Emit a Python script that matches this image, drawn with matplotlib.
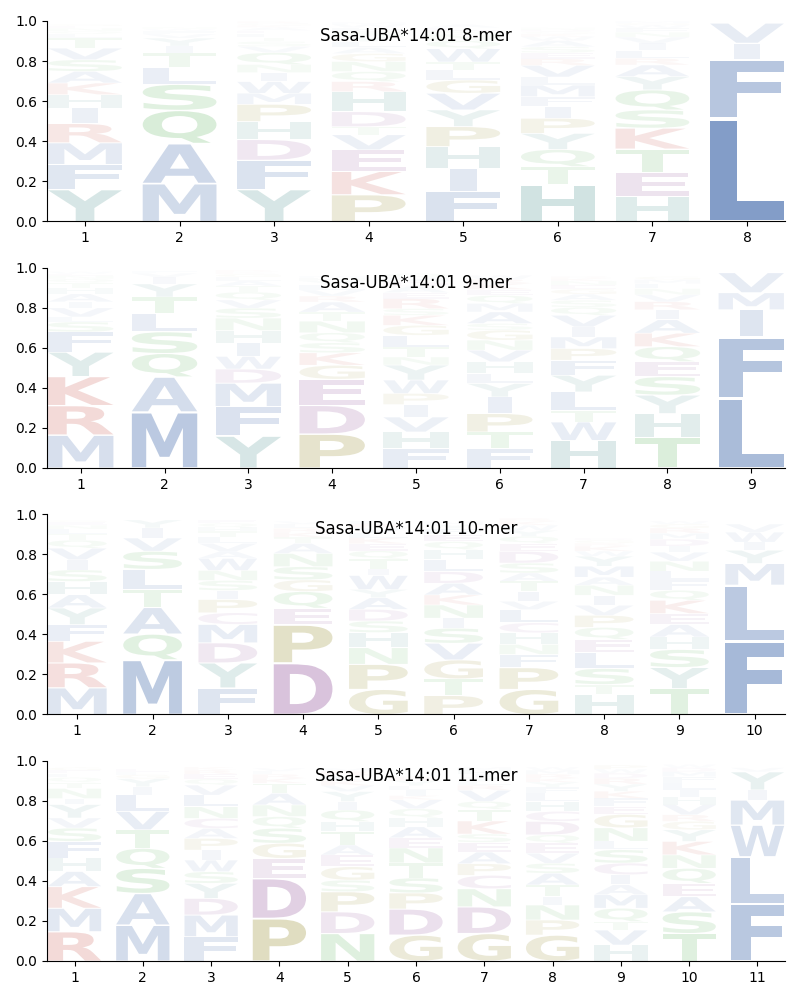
import matplotlib
matplotlib.use("Agg")
import matplotlib.pyplot as plt
from matplotlib.textpath import TextPath
from matplotlib.font_manager import FontProperties
from matplotlib.patches import PathPatch
from matplotlib.transforms import Affine2D

# Residue stacks, bottom to top, for each peptide length
mer8_letters = ["YFMRIHKASVTLQNEG", "MAQSLTIYVFWN", "YFDHPMWINQVSTLEAKGR",
                "PKEVTDHRQNGALYSFWM", "FIHPYVGLTWQNSEA", "HTQYPIFMLVRESAWKGDN",
                "HETKSQYARLIVNFWGM", "LFIV"]
mer8_heights = [
    [.16, .125, .108, .096, .078, .066, .058, .058, .058, .058, .05, .02, .015, .015, .01, .01],
    [.19, .2, .165, .13, .085, .07, .035, .04, .02, .015, .01, .01],
    [.16, .146, .103, .09, .086, .055, .058, .045, .04, .06, .03, .025, .02, .02, .015, .015, .01, .01, .01],
    [.134, .116, .108, .075, .04, .075, .1, .05, .05, .05, .04, .03, .03, .025, .025, .02, .015, .01],
    [.15, .116, .108, .1, .083, .083, .066, .05, .04, .066, .04, .03, .02, .015, .015],
    [.184, .09, .086, .08, .075, .058, .05, .058, .04, .058, .033, .03, .03, .03, .02, .015, .01, .01, .01],
    [.126, .12, .116, .104, .091, .1, .066, .058, .033, .04, .035, .03, .025, .02, .015, .01, .01],
    [.515, .295, .08, .1],
]

mer9_letters = ["MRKYFSLVIAHTQNEW", "MAQSLTYIVF", "YFMDWIHNSVQTALGKR",
                "PDEGKSQNTARVLYHM", "FHVIPWYNTLGKSREADMQ", "FTPIYLHVNGSAMQEKRW",
                "HWTLYFPMIVQSAGENKR", "THYSEQKAIRVNLMG", "LFIMV"]
mer9_heights = [
    [.165, .147, .145, .122, .1, .05, .025, .045, .03, .04, .03, .025, .02, .015, .01, .01],
    [.28, .175, .117, .108, .09, .083, .066, .033, .02, .01],
    [.16, .147, .117, .07, .063, .066, .063, .062, .05, .04, .04, .03, .025, .02, .015, .01, .01],
    [.17, .143, .13, .07, .062, .05, .05, .058, .045, .05, .03, .03, .025, .02, .015, .01],
    [.097, .083, .075, .062, .055, .067, .075, .04, .05, .058, .05, .05, .033, .05, .03, .03, .025, .02, .02],
    [.097, .083, .092, .083, .067, .05, .058, .058, .05, .05, .033, .058, .042, .04, .03, .03, .02, .02],
    [.138, .092, .058, .092, .083, .075, .058, .058, .05, .058, .04, .035, .03, .025, .02, .02, .015, .01],
    [.155, .117, .092, .092, .075, .075, .067, .067, .05, .04, .035, .03, .025, .02, .015],
    [.35, .305, .135, .085, .1],
]

mer10_letters = ["MRKFYAHSIVQTLNEG", "MQATLSVIY", "FYDMCPISNWAVLTHQE",
                 "DPEQGSNATKRLV", "GPNHSDAYWITQEKLVRF", "PTGVSINKADLHQEFYM",
                 "GPFNHCLVITASDEQYWKR", "HTSLEQPVINAMYWKRGD", "TYSHAEKQFLNVIDMRGW",
                 "FLMYIWV"]
mer10_heights = [
    [.134, .124, .108, .083, .083, .066, .066, .058, .05, .058, .04, .03, .025, .02, .015, .01],
    [.274, .128, .133, .09, .1, .09, .066, .05, .04],
    [.133, .125, .1, .092, .058, .066, .045, .05, .05, .06, .035, .04, .03, .03, .02, .02, .015],
    [.258, .19, .083, .083, .058, .066, .066, .05, .03, .025, .02, .02, .015],
    [.126, .125, .083, .075, .058, .058, .058, .041, .07, .033, .05, .04, .035, .03, .025, .025, .02, .015],
    [.095, .083, .095, .083, .075, .05, .066, .05, .058, .058, .06, .05, .04, .035, .03, .02, .015],
    [.126, .108, .066, .05, .058, .05, .066, .041, .05, .05, .041, .05, .058, .04, .035, .03, .025, .02, .015],
    [.1, .05, .08, .08, .065, .06, .06, .05, .05, .05, .04, .055, .05, .025, .025, .015, .015, .01],
    [.13, .105, .09, .062, .062, .055, .066, .05, .05, .045, .05, .045, .03, .035, .03, .025, .02, .015],
    [.366, .28, .108, .066, .04, .05, .04],
]

mer11_letters = ["RMKAHFSVYINTQLEG", "MASQTVLIYGFE", "FMDYSWIPACNLVQERK",
                 "PDEGSQNATKRLV", "NDPSGEATHQIYVKLRM", "GDPSTNEAHQVKILYR",
                 "GDNCPAESKTQVRLYIHM", "GPNITASVEQDCHLFYKRMW", "HVTQMAICSLNGEFKYRDWP",
                 "TSAEQNKYGRVHILFMDW", "FLWMIYV"]
mer11_heights = [
    [.147, .117, .108, .075, .067, .083, .067, .05, .067, .03, .05, .03, .025, .02, .015, .015],
    [.18, .158, .125, .1, .092, .092, .083, .04, .04, .02, .015, .015],
    [.122, .108, .083, .075, .058, .058, .05, .058, .05, .05, .058, .058, .05, .03, .025, .02, .015],
    [.213, .2, .1, .075, .075, .058, .058, .058, .05, .025, .02, .015, .015],
    [.138, .108, .1, .058, .067, .058, .05, .067, .05, .058, .042, .05, .03, .025, .025, .02, .015],
    [.13, .13, .08, .075, .075, .075, .05, .055, .045, .045, .045, .02, .03, .02, .025, .02],
    [.138, .133, .09, .067, .058, .058, .048, .042, .065, .058, .04, .055, .025, .02, .02, .015, .02, .015],
    [.13, .075, .075, .042, .058, .058, .05, .05, .05, .042, .067, .05, .05, .04, .03, .025, .02, .02, .02, .015],
    [.08, .075, .042, .067, .067, .05, .05, .058, .067, .042, .067, .067, .04, .04, .035, .035, .03, .025, .02, .02],
    [.138, .108, .075, .067, .075, .067, .067, .058, .042, .033, .05, .04, .035, .035, .03, .025, .02, .015],
    [.288, .233, .158, .125, .05, .09, .02],
]

titles = ["Sasa-UBA*14:01 8-mer", "Sasa-UBA*14:01 9-mer",
          "Sasa-UBA*14:01 10-mer", "Sasa-UBA*14:01 11-mer"]

# colour groups
colors = {}
for aa in "AFILMVW":
    colors[aa] = "#4C72B0"
for aa in "HY":
    colors[aa] = "#478F8B"
for aa in "KR":
    colors[aa] = "#C4463C"
for aa in "DEC":
    colors[aa] = "#92549B"
for aa in "NQST":
    colors[aa] = "#55B055"
for aa in "GP":
    colors[aa] = "#948A29"

fp = FontProperties(family="DejaVu Sans", weight="bold")


def draw_letter(ax, ch, x, y, w, h, color, alpha):
    tp = TextPath((0, 0), ch, size=1, prop=fp)
    bb = tp.get_extents()
    if ch == "I":
        w = w * 0.36  # the I keeps its narrow shape
    tr = Affine2D().translate(-bb.x0, -bb.y0).scale(w / bb.width, h / bb.height).translate(x - w / 2, y)
    ax.add_patch(PathPatch(tr.transform_path(tp), facecolor=color, edgecolor="none",
                           alpha=alpha, lw=0))


panels = [(mer8_letters, mer8_heights), (mer9_letters, mer9_heights),
          (mer10_letters, mer10_heights), (mer11_letters, mer11_heights)]

fig, axes = plt.subplots(4, 1, figsize=(8, 10), dpi=100)
fig.subplots_adjust(left=0.059, right=0.981, top=0.979, bottom=0.039, hspace=0.23)

for ax, (letters, heights), title in zip(axes, panels, titles):
    n = len(letters)
    for i, (col, hs) in enumerate(zip(letters, heights, strict=True)):
        pos = i + 1
        y = 0.0
        for ch, h in zip(col, hs, strict=True):
            draw_letter(ax, ch, pos, y + 0.015 * h, 0.78, 0.955 * h, colors[ch], min(1.0, 1.35 * h))
            y += h
    ax.set_xlim(0.6, n + 0.4)
    ax.set_ylim(0, 1)
    ax.set_xticks(range(1, n + 1))
    ax.set_yticks([0, 0.2, 0.4, 0.6, 0.8, 1.0])
    ax.spines["top"].set_visible(False)
    ax.spines["right"].set_visible(False)
    ax.text(0.5, 0.925, title, transform=ax.transAxes, ha="center", va="center",
            fontsize=12, zorder=10)

fig.savefig("out.png")
